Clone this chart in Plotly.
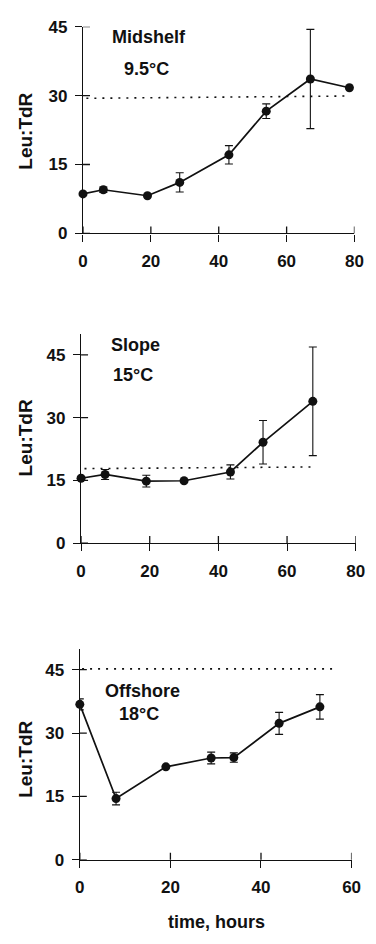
import plotly.graph_objects as go

W, H = 376, 944

# ---- data ----
mid_t = [0, 6, 19, 28.5, 43, 54, 67, 78.5]
mid_v = [8.6, 9.5, 8.2, 11.1, 17.1, 26.6, 33.6, 31.7]
mid_e = [0, 0.6, 0, 2.1, 2.0, 1.6, 10.8, 0]
mid_ctrl_t = [1, 78]
mid_ctrl_v = [29.4, 29.9]

slope_t = [0, 7, 19, 30, 43.5, 53, 67.5]
slope_v = [15.5, 16.4, 14.8, 14.9, 17.0, 24.1, 33.9]
slope_e = [0.4, 1.2, 1.4, 0, 1.7, 5.2, 13.0]
slope_ctrl_t = [1, 67]
slope_ctrl_v = [17.8, 18.2]

off_t = [0, 8, 19, 29, 34, 44, 53]
off_v = [36.8, 14.5, 22.0, 24.1, 24.2, 32.3, 36.2]
off_e = [1.3, 1.5, 0, 1.4, 1.1, 2.6, 2.9]
off_ctrl_t = [0.5, 57]
off_ctrl_v = [45.2, 45.2]

y_ticks = [0, 15, 30, 45]
x_ticks_80 = [0, 20, 40, 60, 80]
x_ticks_60 = [0, 20, 40, 60]

panels = [
    dict(t=mid_t, v=mid_v, e=mid_e, ct=mid_ctrl_t, cv=mid_ctrl_v, xr=[0, 80], yr=[0, 45],
         xt=x_ticks_80, xd=[81, 363], yd=[229, 18],
         labels=[("Midshelf", 150, 29), ("9.5°C", 147, 61)], ytitle_y=125),
    dict(t=slope_t, v=slope_v, e=slope_e, ct=slope_ctrl_t, cv=slope_ctrl_v, xr=[0, 80], yr=[0, 50],
         xt=x_ticks_80, xd=[79, 364.3], yd=[545, 331.7],
         labels=[("Slope", 136, 343), ("15°C", 133, 374)], ytitle_y=438),
    dict(t=off_t, v=off_v, e=off_e, ct=off_ctrl_t, cv=off_ctrl_v, xr=[0, 60], yr=[0, 50],
         xt=x_ticks_60, xd=[77.7, 360], yd=[868.3, 652.7],
         labels=[("Offshore", 143, 696), ("18°C", 139, 719)], ytitle_y=766),
]

FONT = "Liberation Sans, Arial, sans-serif"
INK = "#111111"

fig = go.Figure()
shapes = []
annotations = []
layout = {}

for i, p in enumerate(panels, start=1):
    xa = "x" if i == 1 else f"x{i}"
    ya = "y" if i == 1 else f"y{i}"
    fig.add_trace(go.Scatter(
        x=p["ct"], y=p["cv"], mode="lines", xaxis=xa, yaxis=ya,
        line=dict(color=INK, width=1.6, dash="2px,6px"), showlegend=False,
        hoverinfo="skip", cliponaxis=False))
    fig.add_trace(go.Scatter(
        x=p["t"], y=p["v"], mode="lines+markers", xaxis=xa, yaxis=ya,
        line=dict(color=INK, width=1.7),
        marker=dict(color=INK, size=9),
        error_y=dict(type="data", array=p["e"], visible=True, color=INK,
                     thickness=1.1, width=4),
        showlegend=False, cliponaxis=False))

    xkey = "xaxis" if i == 1 else f"xaxis{i}"
    ykey = "yaxis" if i == 1 else f"yaxis{i}"
    layout[xkey] = dict(
        domain=[p["xd"][0] / W, p["xd"][1] / W], range=p["xr"], anchor=ya,
        tickvals=p["xt"], ticktext=[f"<b>{v}</b>" for v in p["xt"]],
        ticks="outside", ticklen=7, tickwidth=1.3, tickcolor=INK,
        showline=True, linecolor=INK, linewidth=1.3, showgrid=False, zeroline=False,
        tickfont=dict(family=FONT, size=17, color=INK), ticklabelstandoff=5)
    layout[ykey] = dict(
        domain=[(H - p["yd"][0]) / H, (H - p["yd"][1]) / H], range=p["yr"], anchor=xa,
        tickvals=y_ticks, ticktext=[f"<b>{v}</b>" for v in y_ticks],
        ticks="outside", ticklen=7, tickwidth=1.3, tickcolor=INK,
        showline=True, linecolor=INK, linewidth=1.3, showgrid=False, zeroline=False,
        tickfont=dict(family=FONT, size=17, color=INK), ticklabelstandoff=4)

    # inner half of crossing ticks
    for tv in p["xt"]:
        shapes.append(dict(type="line", xref=xa, yref=ya, x0=tv, x1=tv,
                           ysizemode="pixel", yanchor=0, y0=-7, y1=7,
                           line=dict(color=INK, width=1.3)))
    for tv in y_ticks:
        shapes.append(dict(type="line", xref=xa, yref=ya, y0=tv, y1=tv,
                           xsizemode="pixel", xanchor=0, x0=-7, x1=7,
                           line=dict(color=INK, width=1.3)))

    for txt, px, py in p["labels"]:
        annotations.append(dict(text=f"<b>{txt}</b>", xref="paper", yref="paper",
                                x=px / W, y=(H - py) / H, xanchor="center", yanchor="middle",
                                showarrow=False, font=dict(family=FONT, size=18, color=INK)))
    annotations.append(dict(text="<b>Leu:TdR</b>", xref="paper", yref="paper",
                            x=21 / W, y=(H - p["ytitle_y"]) / H, textangle=-90,
                            xanchor="center", yanchor="middle", showarrow=False,
                            font=dict(family=FONT, size=19, color=INK)))

annotations.append(dict(text="<b>time, hours</b>", xref="paper", yref="paper",
                        x=220 / W, y=(H - 932) / H, xanchor="center", yanchor="middle",
                        showarrow=False, font=dict(family=FONT, size=18, color=INK)))

fig.update_layout(
    width=W, height=H, margin=dict(l=0, r=0, t=0, b=0),
    paper_bgcolor="white", plot_bgcolor="white",
    shapes=shapes, annotations=annotations, **layout)

fig.write_html("out.html")
